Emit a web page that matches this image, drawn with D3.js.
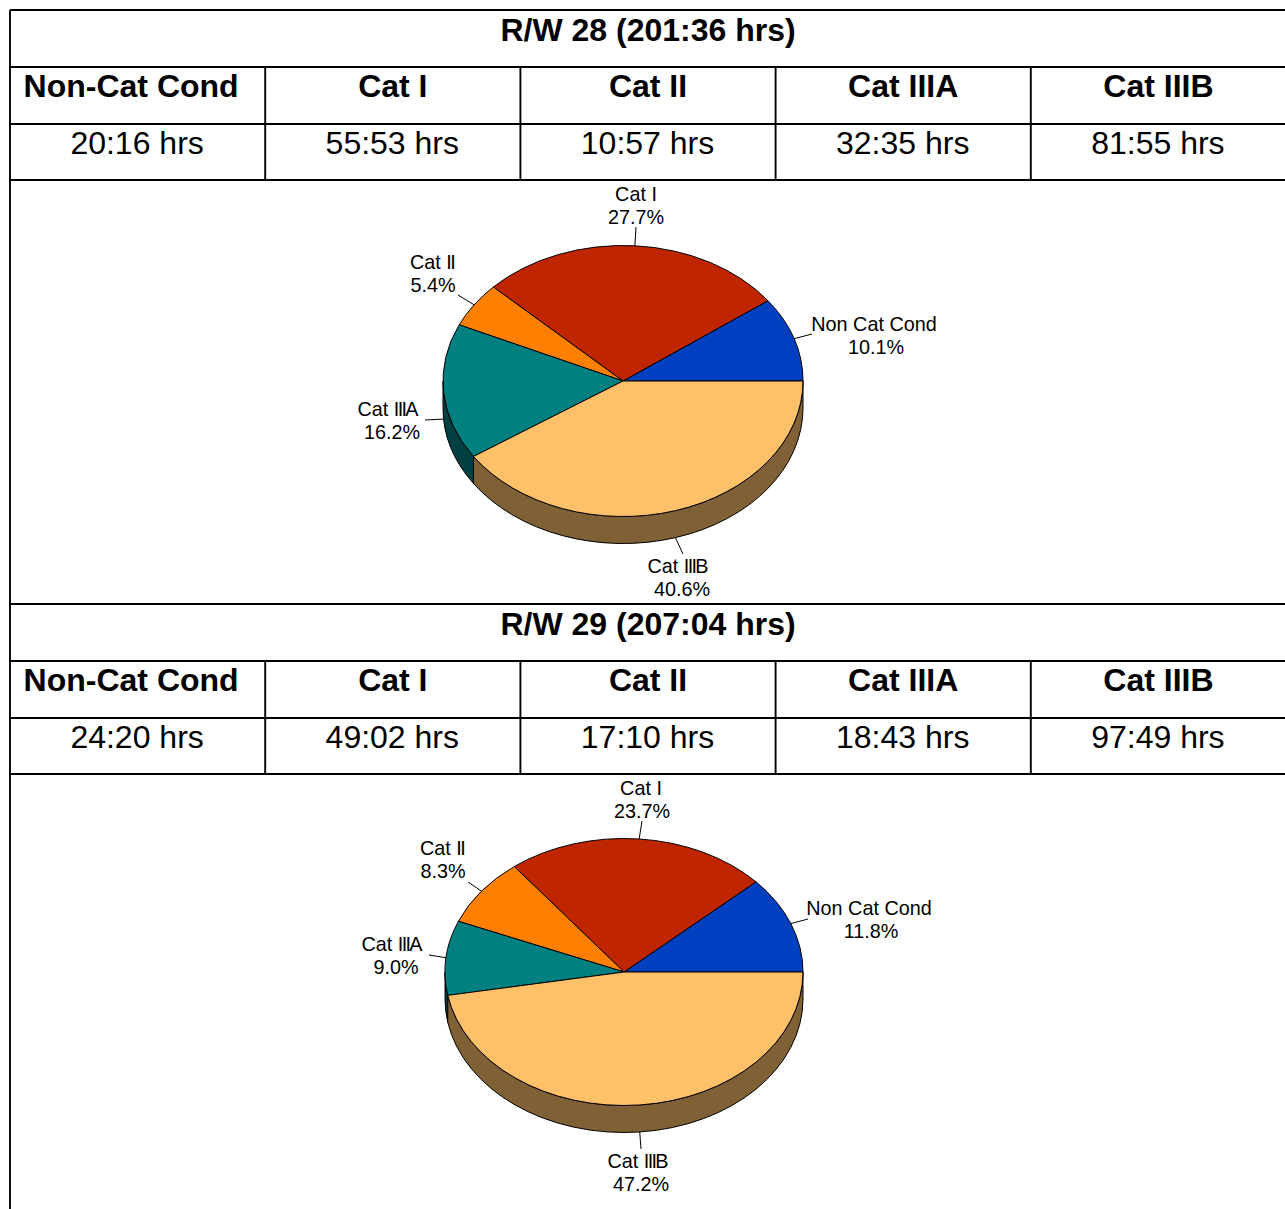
<!DOCTYPE html>
<html>
<head>
<meta charset="utf-8">
<title>R/W hours by category</title>
<script src="https://cdn.jsdelivr.net/npm/d3@7"></script>
<style>
    html, body { margin: 0; padding: 0; background: #fff; overflow: hidden; }
    svg { display: block; font-family: "Liberation Sans", Arial, sans-serif; }
    .grid { stroke: #000; stroke-width: 1.9; fill: none; }
    .title, .head { font-weight: bold; font-size: 32px; text-anchor: middle; }
    .value { font-size: 32px; text-anchor: middle; }
    .lab { font-size: 19.8px; text-anchor: middle; }
</style>
</head>
<body>
<div id="chart"></div>
<script>
// table data
const columns = ['Non-Cat Cond', 'Cat I', 'Cat II', 'Cat IIIA', 'Cat IIIB'];
const titles = ['R/W 28 (201:36 hrs)', 'R/W 29 (207:04 hrs)'];
const hours28 = ['20:16 hrs', '55:53 hrs', '10:57 hrs', '32:35 hrs', '81:55 hrs'];
const hours29 = ['24:20 hrs', '49:02 hrs', '17:10 hrs', '18:43 hrs', '97:49 hrs'];

// pie data
const sliceNames = ['Non Cat Cond', 'Cat I', 'Cat II', 'Cat IIIA', 'Cat IIIB'];
const shares28 = [10.1, 27.7, 5.4, 16.2, 40.6];
const shares29 = [11.8, 23.7, 8.3, 9.0, 47.2];

const topColors = ['#0040C0', '#BF2600', '#FF8000', '#008080', '#FFC06A'];
const wallColors = ['#002060', '#601300', '#804000', '#004040', '#806035'];

// label layout: [x of name, x of percent, baseline of name, leader end x, leader end y]
const labels28 = [
    [874, 876, 331, 812, 334],
    [636, 636, 201, 636, 227],
    [432, 433, 269, 458, 295],
    [388, 392, 416, 425, 420],
    [678, 682, 573, 683, 554]
];
const labels29 = [
    [869, 871, 915, 808, 919],
    [641, 642, 795, 642, 821],
    [442, 443, 855, 468, 882],
    [392, 396, 951, 429, 955],
    [638, 641, 1168, 641, 1149]
];

const width = 1285, height = 1209;
const svg = d3.select('#chart').append('svg').attr('width', width).attr('height', height);

const x = d3.scaleBand().domain(columns).range([10, 1286]);

function drawTable(top, title, hours) {
    const rows = [top, top + 57, top + 114, top + 170];
    const g = svg.append('g');

    rows.forEach(y => {
        g.append('line').attr('class', 'grid').attr('x1', 10).attr('x2', width).attr('y1', y).attr('y2', y);
    });
    columns.slice(1).forEach(c => {
        g.append('line').attr('class', 'grid').attr('x1', x(c)).attr('x2', x(c)).attr('y1', rows[1]).attr('y2', rows[3]);
    });

    g.append('text').attr('class', 'title').attr('x', 648).attr('y', top + 31).text(title);

    columns.forEach((c, i) => {
        // first header is wider than its cell, it sits a bit to the left
        const shift = i === 0 ? -6.5 : 0;
        g.append('text').attr('class', 'head')
            .attr('x', x(c) + x.bandwidth() / 2 + shift)
            .attr('y', top + 87).text(c);
        g.append('text').attr('class', 'value')
            .attr('x', x(c) + x.bandwidth() / 2 - 0.5)
            .attr('y', top + 144).text(hours[i]);
    });
}

function drawPie(cx, cy, rx, ry, depth, shares, labels) {
    const pie = d3.pie().sort(null).startAngle(Math.PI / 2).endAngle(Math.PI / 2 - 2 * Math.PI);
    const slices = pie(shares);
    const arc = d3.arc().innerRadius(0).outerRadius(rx);
    const g = svg.append('g').attr('transform', `translate(${cx},${cy})`);

    // d3 angle (0 = up, clockwise) to a point on the flattened rim
    const rim = a => [rx * Math.sin(a), -ry * Math.cos(a)];

    // side wall, slices run counterclockwise so the lower half is -90deg to -270deg
    slices.forEach((s, i) => {
        const from = Math.min(s.startAngle, -Math.PI / 2);
        const to = Math.max(s.endAngle, -3 * Math.PI / 2);
        if (from <= to) return;
        const p0 = rim(from), p1 = rim(to);
        const path = `M${p0[0]},${p0[1]}A${rx},${ry} 0 0 0 ${p1[0]},${p1[1]}`
            + `L${p1[0]},${p1[1] + depth}A${rx},${ry} 0 0 1 ${p0[0]},${p0[1] + depth}Z`;
        g.append('path').attr('d', path).attr('fill', wallColors[i])
            .attr('stroke', '#000').attr('stroke-width', 1).attr('stroke-linejoin', 'round');
    });

    // top face
    g.append('g').attr('transform', `scale(1,${ry / rx})`)
        .selectAll('path').data(slices).enter().append('path')
        .attr('d', arc)
        .attr('fill', (d, i) => topColors[i])
        .attr('stroke', '#000')
        .attr('stroke-width', 1)
        .attr('stroke-linejoin', 'round')
        .attr('vector-effect', 'non-scaling-stroke');

    // labels and leaders
    slices.forEach((s, i) => {
        const mid = (s.startAngle + s.endAngle) / 2;
        const p = rim(mid);
        const onWall = Math.cos(mid) < 0 ? depth : 0;
        const l = labels[i];
        svg.append('line')
            .attr('x1', cx + p[0]).attr('y1', cy + p[1] + onWall)
            .attr('x2', l[3]).attr('y2', l[4])
            .attr('stroke', '#000').attr('stroke-width', 1);
        // the roman numerals are set tight in the original
        svg.append('text').attr('class', 'lab').attr('x', l[0]).attr('y', l[2])
            .html(sliceNames[i].replace(/I{2,}/, m => `<tspan letter-spacing="-1.7">${m}</tspan>`));
        svg.append('text').attr('class', 'lab').attr('x', l[1]).attr('y', l[2] + 22.5).text(s.data.toFixed(1) + '%');
    });
}

drawTable(10, titles[0], hours28);
drawTable(604, titles[1], hours29);

// left border runs down the whole page
svg.append('line').attr('class', 'grid').attr('x1', 10).attr('x2', 10).attr('y1', 10).attr('y2', height);

drawPie(623, 381, 180, 135.5, 27, shares28, labels28);
drawPie(624, 972, 179, 133.5, 27, shares29, labels29);
</script>
</body>
</html>
